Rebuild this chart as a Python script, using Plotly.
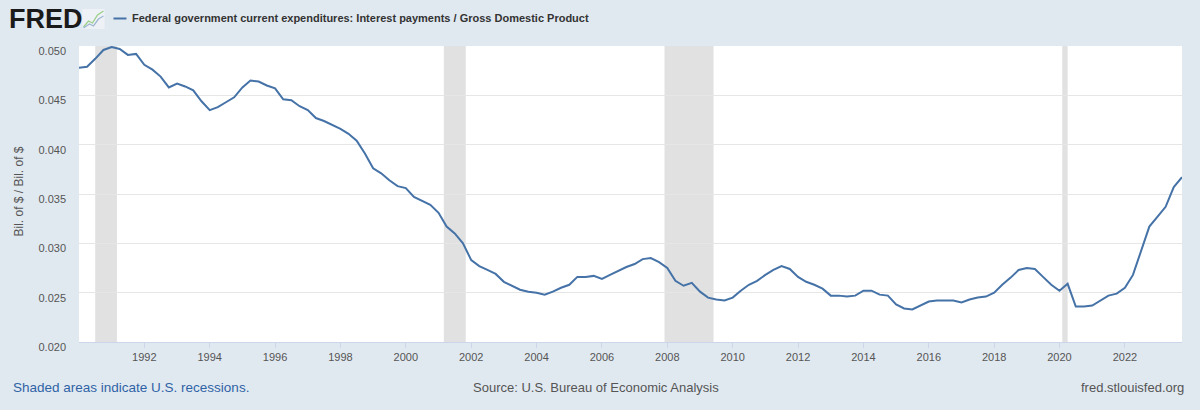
import pandas as pd
import plotly.graph_objects as go

# ---- data (quarterly, 1990Q1 .. 2023Q4) ----
start_date = "1990-01-01"
ratio = [
    0.0478, 0.0479, 0.0487, 0.0496, 0.0499, 0.0497, 0.0491, 0.0492,  # 1990-91
    0.0481, 0.0476, 0.0469, 0.0458, 0.0462, 0.0459, 0.0455, 0.0444,  # 1992-93
    0.0435, 0.0438, 0.0443, 0.0448, 0.0458, 0.0465, 0.0464, 0.0460,  # 1994-95
    0.0457, 0.0446, 0.0445, 0.0439, 0.0435, 0.0427, 0.0424, 0.0420,  # 1996-97
    0.0416, 0.0411, 0.0404, 0.0391, 0.0376, 0.0371, 0.0364, 0.0358,  # 1998-99
    0.0356, 0.0347, 0.0343, 0.0339, 0.0331, 0.0317, 0.0310, 0.0300,  # 2000-01
    0.0283, 0.0277, 0.0273, 0.0269, 0.0261, 0.0257, 0.0253, 0.0251,  # 2002-03
    0.0250, 0.0248, 0.0251, 0.0255, 0.0258, 0.0266, 0.0266, 0.0267,  # 2004-05
    0.0264, 0.0268, 0.0272, 0.0276, 0.0279, 0.0284, 0.0285, 0.0281,  # 2006-07
    0.0275, 0.0262, 0.0257, 0.0260, 0.0251, 0.0245, 0.0243, 0.0242,  # 2008-09
    0.0245, 0.0252, 0.0258, 0.0262, 0.0268, 0.0273, 0.0277, 0.0274,  # 2010-11
    0.0266, 0.0261, 0.0258, 0.0254, 0.0247, 0.0247, 0.0246, 0.0247,  # 2012-13
    0.0252, 0.0252, 0.0248, 0.0247, 0.0238, 0.0234, 0.0233, 0.0237,  # 2014-15
    0.0241, 0.0242, 0.0242, 0.0242, 0.0240, 0.0243, 0.0245, 0.0246,  # 2016-17
    0.0250, 0.0258, 0.0265, 0.0273, 0.0275, 0.0274, 0.0266, 0.0258,  # 2018-19
    0.0252, 0.0259, 0.0236, 0.0236, 0.0237, 0.0242, 0.0247, 0.0249,  # 2020-21
    0.0255, 0.0268, 0.0293, 0.0317, 0.0327, 0.0337, 0.0357, 0.0367,  # 2022-23
]
dates = pd.date_range(start_date, periods=len(ratio), freq="QS")

recession_starts = ["1990-07-01", "2001-03-01", "2007-12-01", "2020-02-01"]
recession_ends = ["1991-03-01", "2001-11-01", "2009-06-01", "2020-04-01"]

tick_years = list(range(1992, 2024, 2))
tick_vals = [f"{y}-01-01" for y in tick_years]
tick_text = [str(y) for y in tick_years]

series_name = "Federal government current expenditures: Interest payments / Gross Domestic Product"
y_title = "Bil. of $ / Bil. of $"
note_left = "Shaded areas indicate U.S. recessions."
note_mid = "Source: U.S. Bureau of Economic Analysis"
note_right = "fred.stlouisfed.org"

# ---- layout geometry ----
W, H = 1200, 410
ML, MR, MT, MB = 78.5, 18, 46, 68
PW, PH = W - ML - MR, H - MT - MB


def px(x):
    return (x - ML) / PW


def py(y):
    return (H - MB - y) / PH


LINE = "#4572a7"
BG = "#e1e9f0"
FONT = "Liberation Sans, Arial, Helvetica, sans-serif"

fig = go.Figure()
fig.add_trace(go.Scatter(x=dates, y=ratio, mode="lines",
                         line=dict(color=LINE, width=2), hoverinfo="x+y",
                         showlegend=False))

shapes = []
for s, e in zip(recession_starts, recession_ends):
    shapes.append(dict(type="rect", xref="x", yref="paper", x0=s, x1=e, y0=0, y1=1,
                       fillcolor="#e1e1e1", line=dict(width=0), layer="below"))

# FRED logo icon (small chart glyph) + legend dash
shapes.append(dict(type="rect", xref="paper", yref="paper",
                   x0=px(82), x1=px(104), y0=py(29), y1=py(9),
                   fillcolor="#eef2f6", line=dict(width=0), layer="above"))
shapes.append(dict(type="path", xref="paper", yref="paper",
                   path=(f"M {px(83)},{py(27)} L {px(88)},{py(21)} L {px(92)},{py(23)} "
                         f"L {px(97)},{py(15)} L {px(103)},{py(11)}"),
                   line=dict(color="#9ccf8a", width=1.3), layer="above"))
shapes.append(dict(type="path", xref="paper", yref="paper",
                   path=(f"M {px(83)},{py(28)} L {px(89)},{py(24)} L {px(93)},{py(26)} "
                         f"L {px(98)},{py(19)} L {px(103)},{py(16)}"),
                   line=dict(color="#9fb7d3", width=1.3), layer="above"))
shapes.append(dict(type="line", xref="paper", yref="paper",
                   x0=px(113), x1=px(126), y0=py(18.5), y1=py(18.5),
                   line=dict(color=LINE, width=2), layer="above"))

annotations = [
    dict(text="<b>FRED</b>", x=px(6), y=py(19), xref="paper", yref="paper",
         xanchor="left", yanchor="middle", showarrow=False,
         font=dict(family="Liberation Sans, Arial", size=27, color="#1a1a1a")),
    dict(text=f"<b>{series_name}</b>", x=px(130), y=py(18.5), xref="paper", yref="paper",
         xanchor="left", yanchor="middle", showarrow=False,
         font=dict(family=FONT, size=11, color="#333333")),
    dict(text=y_title, x=px(18), y=py(192), xref="paper", yref="paper",
         xanchor="center", yanchor="middle", showarrow=False, textangle=-90,
         font=dict(family=FONT, size=12, color="#555555")),
    dict(text=note_left, x=px(10), y=py(387), xref="paper", yref="paper",
         xanchor="left", yanchor="middle", showarrow=False,
         font=dict(family=FONT, size=13.5, color="#2f63a6")),
    dict(text=note_mid, x=px(596), y=py(387), xref="paper", yref="paper",
         xanchor="center", yanchor="middle", showarrow=False,
         font=dict(family=FONT, size=13, color="#555555")),
    dict(text=note_right, x=px(1186), y=py(387), xref="paper", yref="paper",
         xanchor="right", yanchor="middle", showarrow=False,
         font=dict(family=FONT, size=13, color="#555555")),
]

fig.update_layout(
    width=W, height=H,
    margin=dict(l=ML, r=MR, t=MT, b=MB, pad=0),
    paper_bgcolor=BG, plot_bgcolor="#ffffff",
    font=dict(family=FONT, size=11, color="#555555"),
    shapes=shapes, annotations=annotations,
    hovermode="closest",
)
fig.update_xaxes(
    type="date", range=[dates[0], dates[-1]],
    tickvals=tick_vals, ticktext=tick_text,
    showgrid=False, zeroline=False,
    showline=True, linecolor="#ccd6eb", linewidth=1,
    ticks="outside", ticklen=5, tickcolor="#ccd6eb",
    tickfont=dict(size=11, color="#555555"),
)
fig.update_yaxes(
    range=[0.020, 0.050], dtick=0.005, tickformat=".3f",
    showgrid=True, gridcolor="#e6e6e6", gridwidth=1, zeroline=False,
    showline=False, ticks="", ticklabelstandoff=12, ticklabelshift=5,
    tickfont=dict(size=11, color="#555555"),
)

fig.write_html("out.html")
